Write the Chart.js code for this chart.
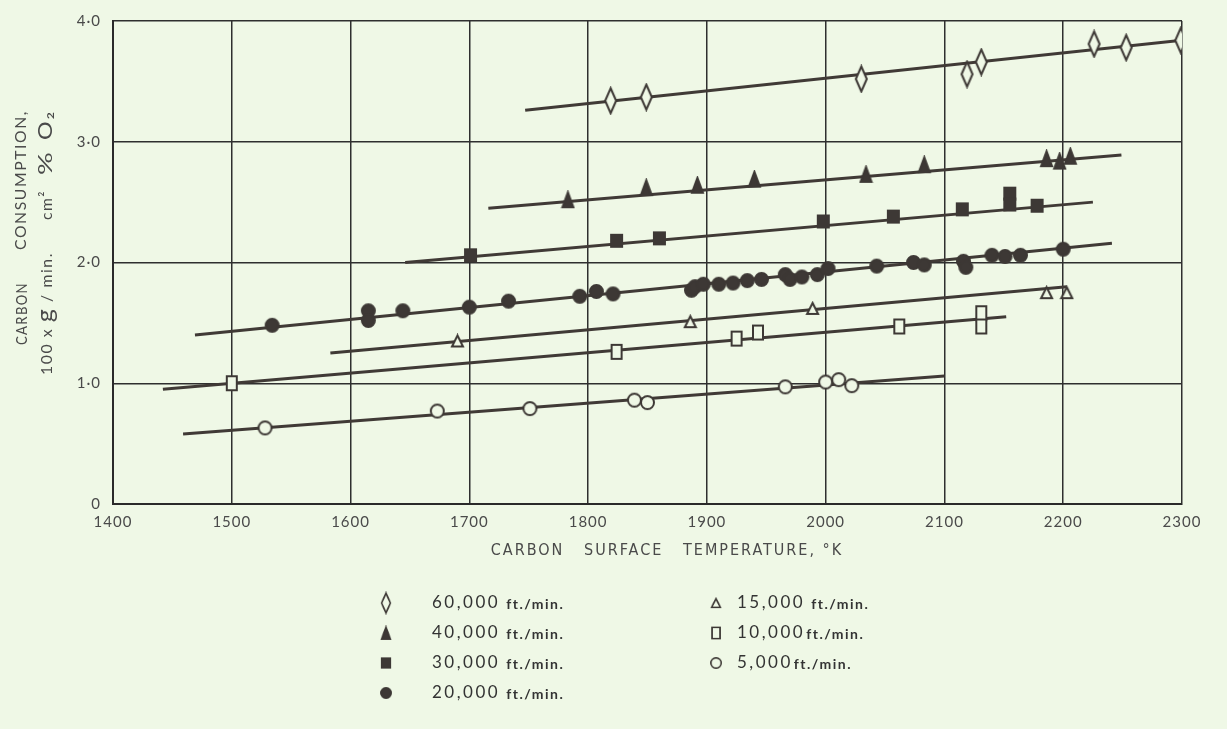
<!DOCTYPE html>
<html>
<head>
<meta charset="utf-8">
<script src="https://cdn.jsdelivr.net/npm/chart.js@4.4.1/dist/chart.umd.min.js"></script>
<style>
  html, body { margin: 0; padding: 0; background: #eff8e6; }
  #wrap { width: 1227px; height: 729px; }
</style>
</head>
<body>
<div id="wrap"><canvas id="chart" width="1227" height="729"></canvas></div>
<script>
// axis ticks
const xTicks = [1400, 1500, 1600, 1700, 1800, 1900, 2000, 2100, 2200, 2300];
const yTicks = [0, 1, 2, 3, 4];

// 60,000 ft./min.
const temp60 = [1819, 1849, 2030, 2119, 2131, 2226, 2253, 2299];
const cons60 = [3.34, 3.37, 3.52, 3.56, 3.66, 3.81, 3.78, 3.84];
const fitT60 = [1747, 2300];
const fitC60 = [3.26, 3.84];

// 40,000 ft./min.
const temp40 = [1783, 1849, 1892, 1940, 2034, 2083, 2186, 2197, 2206];
const cons40 = [2.52, 2.62, 2.64, 2.69, 2.73, 2.81, 2.86, 2.84, 2.88];
const fitT40 = [1716, 2249];
const fitC40 = [2.45, 2.89];

// 30,000 ft./min.
const temp30 = [1701, 1824, 1860, 1998, 2057, 2115, 2155, 2155, 2178];
const cons30 = [2.06, 2.18, 2.20, 2.34, 2.38, 2.44, 2.57, 2.48, 2.47];
const fitT30 = [1646, 2225];
const fitC30 = [2.00, 2.50];

// 20,000 ft./min.
const temp20 = [1534, 1615, 1615, 1644, 1700, 1733, 1793, 1807, 1821, 1887, 1890, 1897, 1910,
                1922, 1934, 1946, 1966, 1970, 1980, 1993, 2002, 2043, 2074, 2083, 2116, 2118,
                2140, 2151, 2164, 2200];
const cons20 = [1.48, 1.60, 1.52, 1.60, 1.63, 1.68, 1.72, 1.76, 1.74, 1.77, 1.80, 1.82, 1.82,
                1.83, 1.85, 1.86, 1.90, 1.86, 1.88, 1.90, 1.95, 1.97, 2.00, 1.98, 2.01, 1.96,
                2.06, 2.05, 2.06, 2.11];
const fitT20 = [1469, 2241];
const fitC20 = [1.40, 2.16];

// 15,000 ft./min.
const temp15 = [1690, 1886, 1989, 2186, 2203];
const cons15 = [1.35, 1.51, 1.62, 1.75, 1.75];
const fitT15 = [1583, 2203];
const fitC15 = [1.25, 1.80];

// 10,000 ft./min.
const temp10 = [1500, 1824, 1925, 1943, 2062, 2131, 2131];
const cons10 = [1.00, 1.26, 1.37, 1.42, 1.47, 1.58, 1.47];
const fitT10 = [1442, 2152];
const fitC10 = [0.95, 1.55];

// 5,000 ft./min.
const temp5 = [1528, 1673, 1751, 1839, 1850, 1966, 2000, 2011, 2022];
const cons5 = [0.63, 0.77, 0.79, 0.86, 0.84, 0.97, 1.01, 1.03, 0.98];
const fitT5 = [1459, 2100];
const fitC5 = [0.58, 1.06];

const BG = '#eff8e6';
const INK = '#3d3835';
const LINE = '#403a36';
const TXT = '#4a4a4a';
const FONT = 'Lato, "DejaVu Sans", sans-serif';

function makeMarker(shape, w, h, filled) {
  const c = document.createElement('canvas');
  c.width = w + 4; c.height = h + 4;
  const g = c.getContext('2d');
  const cx = c.width / 2, cy = c.height / 2;
  g.beginPath();
  if (shape === 'diamond') {
    g.moveTo(cx, cy - h / 2); g.lineTo(cx + w / 2, cy); g.lineTo(cx, cy + h / 2); g.lineTo(cx - w / 2, cy);
    g.closePath();
  } else if (shape === 'triangle') {
    g.moveTo(cx, cy - h / 2); g.lineTo(cx + w / 2, cy + h / 2); g.lineTo(cx - w / 2, cy + h / 2);
    g.closePath();
  } else if (shape === 'rect') {
    g.rect(cx - w / 2, cy - h / 2, w, h);
  } else {
    g.ellipse(cx, cy, w / 2, h / 2, 0, 0, Math.PI * 2);
  }
  g.fillStyle = filled ? INK : BG;
  g.fill();
  g.lineWidth = 2;
  g.strokeStyle = INK;
  g.stroke();
  return c;
}

function pts(xs, ys) { return xs.map((x, i) => ({ x: x, y: ys[i] })); }

const markers = [
  makeMarker('diamond', 11, 25, false),
  makeMarker('triangle', 11, 15, true),
  makeMarker('rect', 11, 12, true),
  makeMarker('circle', 13, 13, true),
  makeMarker('triangle', 11, 11, false),
  makeMarker('rect', 10, 14, false),
  makeMarker('circle', 13, 13, false)
];
const speeds = ['60,000', '40,000', '30,000', '20,000', '15,000', '10,000', '5,000'];
const series = [[temp60, cons60], [temp40, cons40], [temp30, cons30], [temp20, cons20],
                [temp15, cons15], [temp10, cons10], [temp5, cons5]];
const fits = [[fitT60, fitC60], [fitT40, fitC40], [fitT30, fitC30], [fitT20, fitC20],
              [fitT15, fitC15], [fitT10, fitC10], [fitT5, fitC5]];

const datasets = [];
fits.forEach(f => datasets.push({
  data: pts(f[0], f[1]), showLine: true, borderColor: LINE, borderWidth: 3,
  pointRadius: 0, order: 2
}));
series.forEach((s, i) => datasets.push({
  label: speeds[i] + ' ft./min.', data: pts(s[0], s[1]), pointStyle: markers[i],
  showLine: false, order: 1
}));

// wide lettering like the printed figure
const spacingPlugin = {
  id: 'spacing',
  beforeDraw(chart) { chart.ctx.letterSpacing = '1px'; }
};

// legend laid out in two columns under the plot
const legendPlugin = {
  id: 'paperLegend',
  afterDraw(chart) {
    const ctx = chart.ctx;
    ctx.save();
    speeds.forEach((sp, i) => {
      const col = i < 4 ? 0 : 1;
      const row = i < 4 ? i : i - 4;
      const sx = col === 0 ? 386 : 716;
      const tx = col === 0 ? 432 : 737;
      const y = 603 + row * 30;
      const m = markers[i];
      const k = 0.8;
      ctx.drawImage(m, sx - m.width * k / 2, y - m.height * k / 2, m.width * k, m.height * k);
      ctx.fillStyle = '#333';
      ctx.textBaseline = 'middle';
      ctx.letterSpacing = '2.5px';
      ctx.font = '17px ' + FONT;
      ctx.fillText(sp, tx, y);
      const w = ctx.measureText(sp).width;
      ctx.letterSpacing = '1.5px';
      ctx.font = 'bold 14px ' + FONT;
      ctx.fillText('ft./min.', tx + w + (i >= 5 ? 1 : 6), y + 1);
    });
    ctx.restore();
  }
};

// text running upwards, stretched so that it spans yBottom..yTop
function upRun(ctx, x, yBottom, yTop, parts) {
  const widths = parts.map(p => { ctx.font = p[1]; return ctx.measureText(p[0]).width; });
  const total = widths.reduce((a, b) => a + b, 0);
  const k = (yBottom - yTop) / total;
  ctx.save();
  ctx.translate(x, yBottom);
  ctx.rotate(-Math.PI / 2);
  ctx.scale(k, 1);
  ctx.textAlign = 'left';
  ctx.textBaseline = 'middle';
  let pos = 0;
  parts.forEach((p, i) => {
    ctx.font = p[1];
    ctx.fillText(p[0], pos, p[2] || 0);
    pos += widths[i];
  });
  ctx.restore();
}

const titlePlugin = {
  id: 'axisTitles',
  afterDraw(chart) {
    const ctx = chart.ctx;
    ctx.save();
    ctx.fillStyle = TXT;
    ctx.letterSpacing = '1.5px';
    const f15 = '15px ' + FONT;
    upRun(ctx, 22, 345, 282, [['CARBON', f15]]);
    upRun(ctx, 21, 250, 110, [['CONSUMPTION,', f15]]);
    upRun(ctx, 47, 375, 252, [['100 x ', f15], ['g', '24px ' + FONT, -2], [' / min.', f15]]);
    upRun(ctx, 47, 220, 190, [['cm\u00B2', '16px ' + FONT]]);
    upRun(ctx, 46, 175, 150, [['%', '20px ' + FONT]]);
    upRun(ctx, 46, 140, 110, [['O\u2082', '19px ' + FONT]]);
    ctx.letterSpacing = '2px';
    ctx.font = '16px "Liberation Sans Narrow", "DejaVu Sans Condensed", sans-serif';
    ctx.textAlign = 'center';
    ctx.textBaseline = 'middle';
    ctx.fillText('CARBON   SURFACE   TEMPERATURE, \u00B0K', 667, 551);
    ctx.restore();
  }
};

new Chart(document.getElementById('chart'), {
  type: 'scatter',
  data: { datasets: datasets },
  plugins: [spacingPlugin, legendPlugin, titlePlugin],
  options: {
    responsive: false,
    animation: false,
    devicePixelRatio: 1,
    layout: { padding: { top: 19, right: 45, bottom: 169, left: 0 } },
    plugins: { legend: { display: false }, tooltip: { enabled: false } },
    scales: {
      x: {
        type: 'linear', min: 1400, max: 2300,
        afterFit: s => { s.height = 56; },
        afterBuildTicks: s => { s.ticks = xTicks.map(v => ({ value: v })); },
        border: { color: '#2a2a2a', width: 2 },
        grid: { color: '#2f2f2f', lineWidth: 1.5, drawTicks: false },
        ticks: { padding: 9, color: TXT, font: { family: FONT, size: 15 },
                 maxRotation: 0, callback: v => String(v) }
      },
      y: {
        type: 'linear', min: 0, max: 4,
        afterFit: s => { s.width = 113; },
        afterBuildTicks: s => { s.ticks = yTicks.map(v => ({ value: v })); },
        border: { color: '#2a2a2a', width: 2 },
        grid: { color: '#2f2f2f', lineWidth: 1.5, drawTicks: false },
        ticks: { padding: 12, color: TXT, font: { family: FONT, size: 15 },
                 callback: v => v === 0 ? '0' : v.toFixed(1).replace('.', '\u00B7') }
      }
    }
  }
});
</script>
</body>
</html>
